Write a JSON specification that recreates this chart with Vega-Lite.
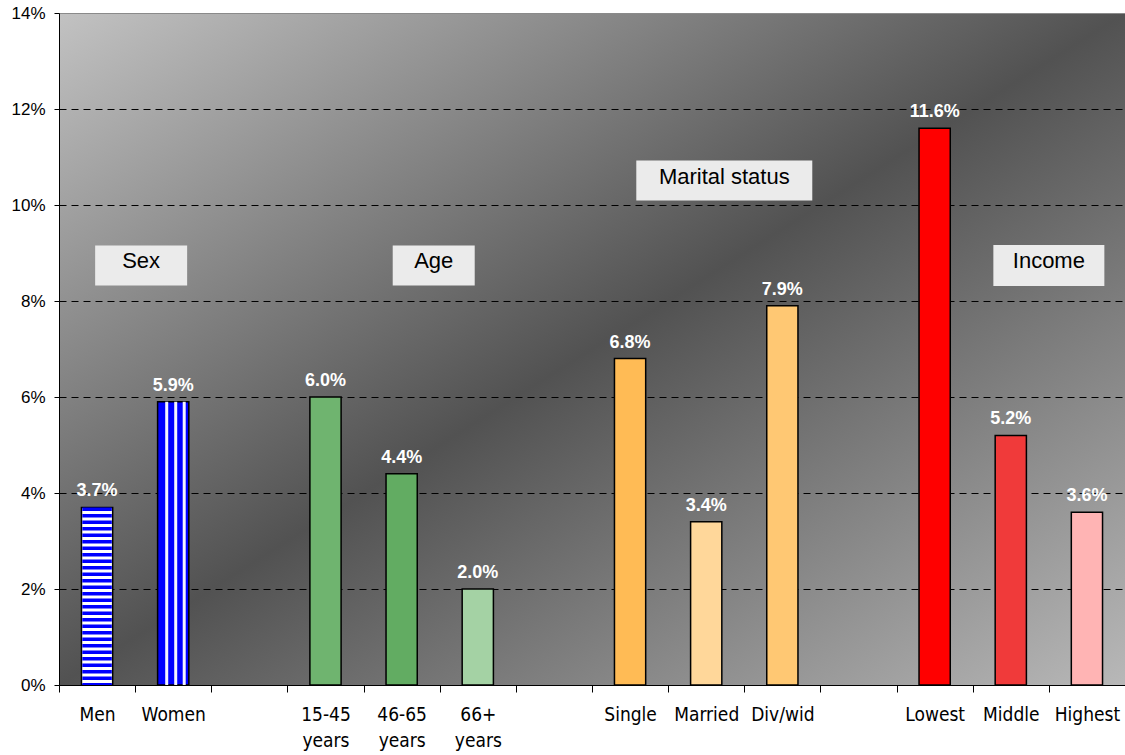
{
  "$schema": "https://vega.github.io/schema/vega-lite/v6.json",
  "width": 1066,
  "height": 672,
  "autosize": {"type": "none"},
  "padding": {"left": 59, "top": 13, "right": 0, "bottom": 70},
  "background": "white",
  "config": {
    "font": "Liberation Sans",
    "view": {
      "stroke": null,
      "fill": {
        "gradient": "linear",
        "x1": 0, "y1": 0, "x2": 1, "y2": 1,
        "stops": [
          {"offset": 0, "color": "#c2c2c2"},
          {"offset": 0.5, "color": "#525252"},
          {"offset": 1, "color": "#b8b8b8"}
        ]
      }
    }
  },
  "layer": [
    {
      "data": {
        "values": [
          {"group": "Men", "value": 0.037},
          {"group": "Women", "value": 0.059},
          {"group": "15-45 years", "value": 0.060},
          {"group": "46-65 years", "value": 0.044},
          {"group": "66+ years", "value": 0.020},
          {"group": "Single", "value": 0.068},
          {"group": "Married", "value": 0.034},
          {"group": "Div/wid", "value": 0.079},
          {"group": "Lowest", "value": 0.116},
          {"group": "Middle", "value": 0.052},
          {"group": "Highest", "value": 0.036}
        ]
      },
      "encoding": {
        "x": {
          "field": "group",
          "type": "nominal",
          "sort": null,
          "scale": {
            "domain": ["Men", "Women", "gap1", "15-45 years", "46-65 years", "66+ years", "gap2", "Single", "Married", "Div/wid", "gap3", "Lowest", "Middle", "Highest"],
            "paddingInner": 0,
            "paddingOuter": 0
          },
          "axis": {
            "title": null,
            "labelAngle": 0,
            "tickBand": "extent",
            "grid": false,
            "domainColor": "black",
            "domainWidth": 1,
            "tickColor": "black",
            "tickSize": 7,
            "labelFont": "DejaVu Sans Condensed, Liberation Sans",
            "labelFontSize": 19,
            "labelColor": "black",
            "labelPadding": 13,
            "labelBaseline": "top",
            "labelLineHeight": 26,
            "labelExpr": "indexof(datum.label, 'gap') == 0 ? '' : split(datum.label, ' ')"
          }
        },
        "y": {
          "field": "value",
          "type": "quantitative",
          "scale": {"domain": [0, 0.14], "nice": false},
          "axis": {
            "title": null,
            "format": ".0%",
            "values": [0, 0.02, 0.04, 0.06, 0.08, 0.10, 0.12, 0.14],
            "grid": true,
            "gridColor": {"condition": {"test": "datum.value >= 0.14", "value": "#8a8a8a"}, "value": "black"},
            "gridDash": {"condition": {"test": "datum.value >= 0.14", "value": []}, "value": [7, 5]},
            "gridWidth": 1,
            "gridOpacity": 1,
            "domainColor": "black",
            "domainWidth": 1,
            "tickColor": "black",
            "tickSize": 5,
            "labelFont": "Liberation Sans",
            "labelFontSize": 17,
            "labelColor": "black",
            "labelPadding": 9
          }
        }
      },
      "layer": [
        {
          "mark": {"type": "bar", "width": {"band": 0.41}, "stroke": "black", "strokeWidth": 1.5, "opacity": 1},
          "encoding": {
            "color": {
              "field": "group",
              "type": "nominal",
              "legend": null,
              "scale": {
                "domain": ["Men", "Women", "15-45 years", "46-65 years", "66+ years", "Single", "Married", "Div/wid", "Lowest", "Middle", "Highest"],
                "range": ["#ffffff", "#0000ff", "#6fb46f", "#62ac62", "#a4d2a4", "#ffbb55", "#ffd79a", "#ffc873", "#ff0000", "#f03a3a", "#ffb4b4"]
              }
            }
          }
        },
        {
          "transform": [{"filter": "datum.group == 'Men'"}],
          "mark": {"type": "rule", "strokeWidth": 29.5, "strokeDash": [3.5, 3], "strokeCap": "butt", "color": "#0000ff"},
          "encoding": {"y2": {"datum": 0}}
        },
        {
          "transform": [{"filter": "datum.group == 'Women'"}],
          "mark": {"type": "rule", "strokeWidth": 3, "strokeCap": "butt", "color": "#f4f4ff", "xOffset": -6.5},
          "encoding": {"y2": {"datum": 0}}
        },
        {
          "transform": [{"filter": "datum.group == 'Women'"}],
          "mark": {"type": "rule", "strokeWidth": 3, "strokeCap": "butt", "color": "#f4f4ff", "xOffset": 2.5},
          "encoding": {"y2": {"datum": 0}}
        },
        {
          "transform": [{"filter": "datum.group == 'Women'"}],
          "mark": {"type": "rule", "strokeWidth": 3, "strokeCap": "butt", "color": "#f4f4ff", "xOffset": 11},
          "encoding": {"y2": {"datum": 0}}
        },
        {
          "mark": {"type": "text", "dy": -11, "baseline": "alphabetic", "fontWeight": "bold", "fontSize": 18, "color": "white", "font": "Liberation Sans"},
          "encoding": {"text": {"field": "value", "type": "quantitative", "format": ".1%"}}
        }
      ]
    },
    {
      "data": {"values": [{"label": "Sex", "anchor": "Women", "pos": 0.0874}]},
      "encoding": {
        "x": {"field": "anchor", "type": "nominal", "bandPosition": 0, "title": null},
        "y": {"field": "pos", "type": "quantitative", "title": null}
      },
      "layer": [
        {"mark": {"type": "point", "shape": "M-46,-20H46V20H-46Z", "size": 4, "filled": true, "fill": "#ebebeb", "strokeWidth": 0, "opacity": 1, "xOffset": 6}},
        {"mark": {"type": "text", "fontSize": 22, "color": "black", "baseline": "middle", "dy": -4, "xOffset": 6}, "encoding": {"text": {"field": "label"}}}
      ]
    },
    {
      "data": {"values": [{"label": "Age", "anchor": "66+ years", "pos": 0.0874}]},
      "encoding": {
        "x": {"field": "anchor", "type": "nominal", "bandPosition": 0, "title": null},
        "y": {"field": "pos", "type": "quantitative", "title": null}
      },
      "layer": [
        {"mark": {"type": "point", "shape": "M-41,-20H41V20H-41Z", "size": 4, "filled": true, "fill": "#ebebeb", "strokeWidth": 0, "opacity": 1, "xOffset": -6}},
        {"mark": {"type": "text", "fontSize": 22, "color": "black", "baseline": "middle", "dy": -4, "xOffset": -6}, "encoding": {"text": {"field": "label"}}}
      ]
    },
    {
      "data": {"values": [{"label": "Marital status", "anchor": "Div/wid", "pos": 0.1051}]},
      "encoding": {
        "x": {"field": "anchor", "type": "nominal", "bandPosition": 0, "title": null},
        "y": {"field": "pos", "type": "quantitative", "title": null}
      },
      "layer": [
        {"mark": {"type": "point", "shape": "M-88,-20H88V20H-88Z", "size": 4, "filled": true, "fill": "#ebebeb", "strokeWidth": 0, "opacity": 1, "xOffset": -20}},
        {"mark": {"type": "text", "fontSize": 22, "color": "black", "baseline": "middle", "dy": -4, "xOffset": -20}, "encoding": {"text": {"field": "label"}}}
      ]
    },
    {
      "data": {"values": [{"label": "Income", "anchor": "Highest", "pos": 0.0874}]},
      "encoding": {
        "x": {"field": "anchor", "type": "nominal", "bandPosition": 0, "title": null},
        "y": {"field": "pos", "type": "quantitative", "title": null}
      },
      "layer": [
        {"mark": {"type": "point", "shape": "M-55.5,-20.5H55.5V20.5H-55.5Z", "size": 4, "filled": true, "fill": "#ebebeb", "strokeWidth": 0, "opacity": 1, "xOffset": 0}},
        {"mark": {"type": "text", "fontSize": 22, "color": "black", "baseline": "middle", "dy": -4, "xOffset": 0}, "encoding": {"text": {"field": "label"}}}
      ]
    }
  ]
}
